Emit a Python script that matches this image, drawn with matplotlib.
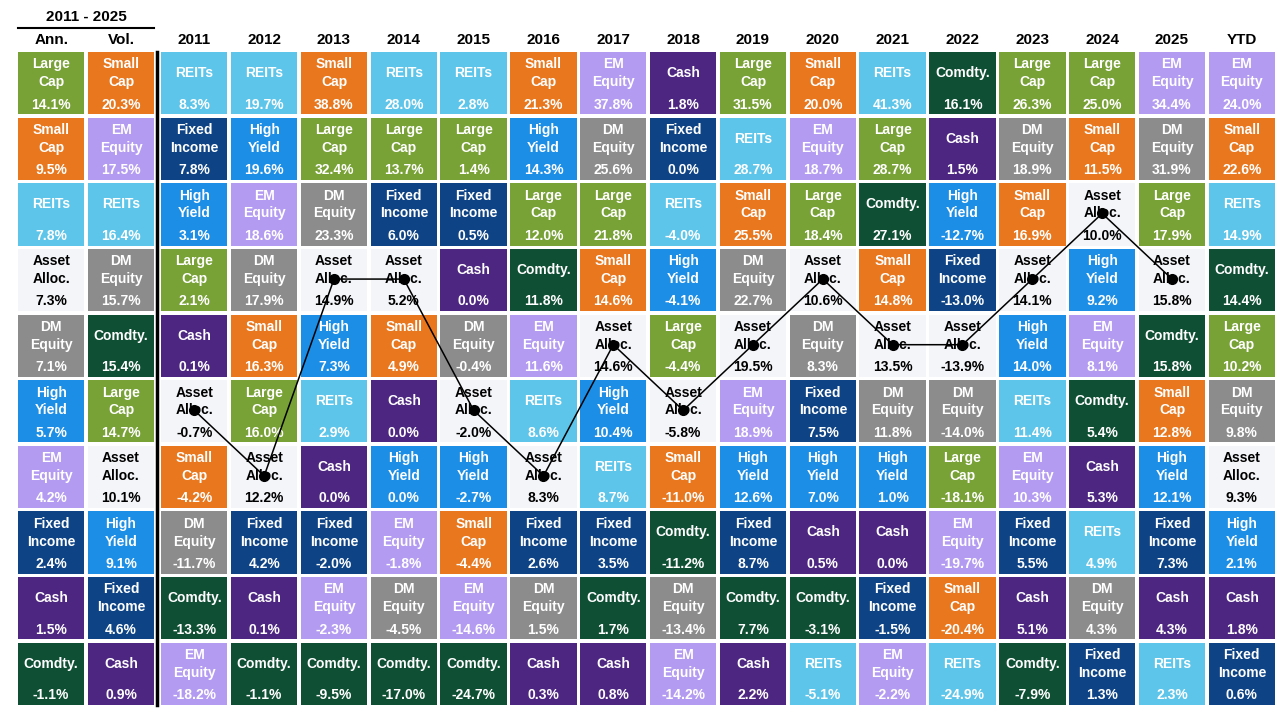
import matplotlib
matplotlib.use("Agg")
import matplotlib.pyplot as plt
from matplotlib.patches import Rectangle

# Data
columns = ["Ann.", "Vol.", "2011", "2012", "2013", "2014", "2015", "2016", "2017",
           "2018", "2019", "2020", "2021", "2022", "2023", "2024", "2025", "YTD"]

ranks = [
    ["LC", "SC", "RE", "AA", "DM", "HY", "EM", "FI", "CA", "CO"],   # Ann.
    ["SC", "EM", "RE", "DM", "CO", "LC", "AA", "HY", "FI", "CA"],   # Vol.
    ["RE", "FI", "HY", "LC", "CA", "AA", "SC", "DM", "CO", "EM"],   # 2011
    ["RE", "HY", "EM", "DM", "SC", "LC", "AA", "FI", "CA", "CO"],   # 2012
    ["SC", "LC", "DM", "AA", "HY", "RE", "CA", "FI", "EM", "CO"],   # 2013
    ["RE", "LC", "FI", "AA", "SC", "CA", "HY", "EM", "DM", "CO"],   # 2014
    ["RE", "LC", "FI", "CA", "DM", "AA", "HY", "SC", "EM", "CO"],   # 2015
    ["SC", "HY", "LC", "CO", "EM", "RE", "AA", "FI", "DM", "CA"],   # 2016
    ["EM", "DM", "LC", "SC", "AA", "HY", "RE", "FI", "CO", "CA"],   # 2017
    ["CA", "FI", "RE", "HY", "LC", "AA", "SC", "CO", "DM", "EM"],   # 2018
    ["LC", "RE", "SC", "DM", "AA", "EM", "HY", "FI", "CO", "CA"],   # 2019
    ["SC", "EM", "LC", "AA", "DM", "FI", "HY", "CA", "CO", "RE"],   # 2020
    ["RE", "LC", "CO", "SC", "AA", "DM", "HY", "CA", "FI", "EM"],   # 2021
    ["CO", "CA", "HY", "FI", "AA", "DM", "LC", "EM", "SC", "RE"],   # 2022
    ["LC", "DM", "SC", "AA", "HY", "RE", "EM", "FI", "CA", "CO"],   # 2023
    ["LC", "SC", "AA", "HY", "EM", "CO", "CA", "RE", "DM", "FI"],   # 2024
    ["EM", "DM", "LC", "AA", "CO", "SC", "HY", "FI", "CA", "RE"],   # 2025
    ["EM", "SC", "RE", "CO", "LC", "DM", "AA", "HY", "CA", "FI"],   # YTD
]

values = [
    [14.1, 9.5, 7.8, 7.3, 7.1, 5.7, 4.2, 2.4, 1.5, -1.1],
    [20.3, 17.5, 16.4, 15.7, 15.4, 14.7, 10.1, 9.1, 4.6, 0.9],
    [8.3, 7.8, 3.1, 2.1, 0.1, -0.7, -4.2, -11.7, -13.3, -18.2],
    [19.7, 19.6, 18.6, 17.9, 16.3, 16.0, 12.2, 4.2, 0.1, -1.1],
    [38.8, 32.4, 23.3, 14.9, 7.3, 2.9, 0.0, -2.0, -2.3, -9.5],
    [28.0, 13.7, 6.0, 5.2, 4.9, 0.0, 0.0, -1.8, -4.5, -17.0],
    [2.8, 1.4, 0.5, 0.0, -0.4, -2.0, -2.7, -4.4, -14.6, -24.7],
    [21.3, 14.3, 12.0, 11.8, 11.6, 8.6, 8.3, 2.6, 1.5, 0.3],
    [37.8, 25.6, 21.8, 14.6, 14.6, 10.4, 8.7, 3.5, 1.7, 0.8],
    [1.8, 0.0, -4.0, -4.1, -4.4, -5.8, -11.0, -11.2, -13.4, -14.2],
    [31.5, 28.7, 25.5, 22.7, 19.5, 18.9, 12.6, 8.7, 7.7, 2.2],
    [20.0, 18.7, 18.4, 10.6, 8.3, 7.5, 7.0, 0.5, -3.1, -5.1],
    [41.3, 28.7, 27.1, 14.8, 13.5, 11.8, 1.0, 0.0, -1.5, -2.2],
    [16.1, 1.5, -12.7, -13.0, -13.9, -14.0, -18.1, -19.7, -20.4, -24.9],
    [26.3, 18.9, 16.9, 14.1, 14.0, 11.4, 10.3, 5.5, 5.1, -7.9],
    [25.0, 11.5, 10.0, 9.2, 8.1, 5.4, 5.3, 4.9, 4.3, 1.3],
    [34.4, 31.9, 17.9, 15.8, 15.8, 12.8, 12.1, 7.3, 4.3, 2.3],
    [24.0, 22.6, 14.9, 14.4, 10.2, 9.8, 9.3, 2.1, 1.8, 0.6],
]

labels = {"LC": "Large\nCap", "SC": "Small\nCap", "RE": "REITs", "EM": "EM\nEquity",
          "DM": "DM\nEquity", "FI": "Fixed\nIncome", "HY": "High\nYield",
          "CA": "Cash", "CO": "Comdty.", "AA": "Asset\nAlloc."}

colors = {"LC": "#78A136", "SC": "#E8771E", "RE": "#5EC5EA", "EM": "#B49BF2",
          "DM": "#8C8C8C", "FI": "#0E4486", "HY": "#1D8EE6", "CA": "#4D2682",
          "CO": "#0F4F34", "AA": "#F4F5F9"}

# Layout
plt.rcParams['font.family'] = ['Liberation Sans', 'DejaVu Sans']
fig = plt.figure(figsize=(12.8, 7.18), dpi=100)
ax = fig.add_axes([18 / 1280, 1 - 705 / 718, 1257 / 1280, 653 / 718])
ax.set_xlim(0, 18.0)
ax.set_ylim(9.95, 0)
ax.axis("off")

cw, ch = 0.95, 0.95
fs = 10


def col_x(j):
    return j if j < 2 else j + 0.05


for j, col in enumerate(columns):
    x0 = col_x(j)
    ax.text(x0 + cw / 2, -0.19, col, ha="center", va="center",
            fontsize=11, fontweight="bold", color="black", clip_on=False)
    for i in range(10):
        key = ranks[j][i]
        ax.add_patch(Rectangle((x0, i), cw, ch, facecolor=colors[key], edgecolor="none"))
        tc = "black" if key == "AA" else "white"
        name = labels[key]
        if "\n" in name:
            a, b = name.split("\n")
            ax.text(x0 + cw / 2, i + 0.19, a, ha="center", va="center",
                    fontsize=fs, fontweight="bold", color=tc)
            ax.text(x0 + cw / 2, i + 0.46, b, ha="center", va="center",
                    fontsize=fs, fontweight="bold", color=tc)
        else:
            ax.text(x0 + cw / 2, i + 0.32, name, ha="center", va="center",
                    fontsize=fs, fontweight="bold", color=tc)
        ax.text(x0 + cw / 2, i + 0.80, f"{values[j][i]:.1f}%", ha="center", va="center",
                fontsize=fs, fontweight="bold", color=tc)

# Header over Ann./Vol.
ax.text(0.975, -0.53, "2011 - 2025", ha="center", va="center",
        fontsize=11, fontweight="bold", color="black", clip_on=False)
ax.plot([0, 1.95], [-0.36, -0.36], color="black", lw=1.5, clip_on=False)

# Divider
ax.plot([1.985, 1.985], [0, 9.95], color="black", lw=2.5, clip_on=False)

# Asset allocation line for the calendar years
yrs = range(2, 17)
lx = [col_x(j) + cw / 2 for j in yrs]
ly = [ranks[j].index("AA") + 0.46 for j in yrs]
ax.plot(lx, ly, color="black", lw=1.1, marker="o", markersize=7, zorder=5)

fig.savefig("out.png", dpi=100)
